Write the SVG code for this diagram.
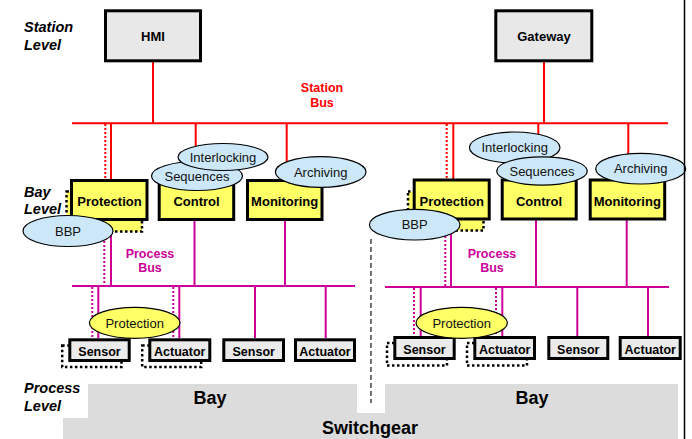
<svg xmlns="http://www.w3.org/2000/svg" width="692" height="439" viewBox="0 0 692 439">
<style>
text{font-family:"Liberation Sans",Arial,sans-serif;}
.lvl{font-size:14.5px;font-weight:bold;font-style:italic;fill:#000;}
.gbox{fill:#e8e8e8;stroke:#000;stroke-width:3;}
.ybox{fill:#ffff66;stroke:#000;stroke-width:3;}
.yshadow{fill:#ffff66;stroke:#000;stroke-width:2.5;stroke-dasharray:2.5 2.5;}
.sshadow{fill:none;stroke:#000;stroke-width:2.5;stroke-dasharray:2.5 2.5;}
.sbox{fill:#ebebeb;stroke:#000;stroke-width:3;}
.t13b{font-size:13px;font-weight:bold;text-anchor:middle;fill:#000;}
.t12b{font-size:12.5px;font-weight:bold;text-anchor:middle;fill:#000;}
.ell{fill:#cce8f8;stroke:#000;stroke-width:1.2;}
.yell{fill:#ffff66;stroke:#000;stroke-width:1.2;}
.et{font-size:13px;text-anchor:middle;fill:#111;}
.red{stroke:#ff0000;stroke-width:2;fill:none;}
.redd{stroke:#ff0000;stroke-width:2;stroke-dasharray:2 2;fill:none;}
.mag{stroke:#cc0099;stroke-width:2;fill:none;}
.magd{stroke:#cc0099;stroke-width:2;stroke-dasharray:2 2;fill:none;}
.bus{font-size:12.5px;font-weight:bold;text-anchor:middle;}
.gray{fill:#dcdcdc;}
.big{font-size:18px;font-weight:bold;text-anchor:middle;fill:#000;}
</style>

<!-- Ground areas -->
<g id="switchgear">
<rect class="gray" x="63" y="413" width="615" height="26"/>
<text class="big" x="370" y="434">Switchgear</text>
</g>
<g id="bay-left">
<rect class="gray" x="88" y="384" width="269" height="34"/>
<text class="big" x="210" y="404">Bay</text>
</g>
<g id="bay-right">
<rect class="gray" x="385" y="384" width="293" height="34"/>
<text class="big" x="532" y="404">Bay</text>
</g>
<rect x="63" y="413" width="25" height="5" fill="#fff"/>
<rect x="357" y="384" width="28" height="29" fill="#fff"/>

<!-- Level labels -->
<g id="labels">
<text class="lvl" x="24" y="32">Station</text>
<text class="lvl" x="24" y="50">Level</text>
<text class="lvl" x="24" y="197">Bay</text>
<text class="lvl" x="24" y="214">Level</text>
<text class="lvl" x="24" y="393">Process</text>
<text class="lvl" x="24" y="411">Level</text>
<text class="bus" x="322" y="92" fill="#ff0000">Station</text>
<text class="bus" x="322" y="107" fill="#ff0000">Bus</text>
<text class="bus" x="150" y="258" fill="#cc0099">Process</text>
<text class="bus" x="150" y="272" fill="#cc0099">Bus</text>
<text class="bus" x="492" y="258" fill="#cc0099">Process</text>
<text class="bus" x="492" y="272" fill="#cc0099">Bus</text>
</g>

<!-- Connectors -->
<g id="connectors">
<line class="red" x1="72" y1="123.3" x2="668" y2="123.3"/>
<line class="red" x1="153" y1="62" x2="153" y2="123.3"/>
<line class="red" x1="544" y1="62" x2="544" y2="123.3"/>
<line class="redd" x1="105.3" y1="124" x2="105.3" y2="180"/>
<line class="red" x1="111" y1="123.3" x2="111" y2="180"/>
<line class="red" x1="195.7" y1="123.3" x2="195.7" y2="170"/>
<line class="red" x1="286.7" y1="123.3" x2="286.7" y2="165"/>
<line class="redd" x1="446.7" y1="124" x2="446.7" y2="180"/>
<line class="red" x1="453.3" y1="123.3" x2="453.3" y2="180"/>
<line class="red" x1="538.3" y1="123.3" x2="538.3" y2="165"/>
<line class="red" x1="628.3" y1="123.3" x2="628.3" y2="160"/>

<line class="mag" x1="72" y1="286" x2="355" y2="286"/>
<line class="mag" x1="385" y1="287" x2="669" y2="287"/>
<line class="magd" x1="104.3" y1="233" x2="104.3" y2="286"/>
<line class="mag" x1="111" y1="220" x2="111" y2="286"/>
<line class="mag" x1="194.5" y1="220" x2="194.5" y2="286"/>
<line class="mag" x1="285" y1="220" x2="285" y2="286"/>
<line class="magd" x1="445.3" y1="232" x2="445.3" y2="287"/>
<line class="mag" x1="451" y1="220" x2="451" y2="287"/>
<line class="mag" x1="536" y1="220" x2="536" y2="287"/>
<line class="mag" x1="626.7" y1="220" x2="626.7" y2="287"/>

<line class="magd" x1="92.3" y1="287" x2="92.3" y2="338"/>
<line class="mag" x1="98.3" y1="286" x2="98.3" y2="338"/>
<line class="magd" x1="173.3" y1="287" x2="173.3" y2="338"/>
<line class="mag" x1="179.3" y1="286" x2="179.3" y2="338"/>
<line class="mag" x1="255" y1="286" x2="255" y2="338"/>
<line class="mag" x1="325.7" y1="286" x2="325.7" y2="338"/>
<line class="magd" x1="414" y1="288" x2="414" y2="336"/>
<line class="mag" x1="420.7" y1="287" x2="420.7" y2="336"/>
<line class="magd" x1="496" y1="288" x2="496" y2="336"/>
<line class="mag" x1="502.3" y1="287" x2="502.3" y2="336"/>
<line class="mag" x1="577.3" y1="287" x2="577.3" y2="336"/>
<line class="mag" x1="648" y1="287" x2="648" y2="336"/>

<line x1="371" y1="239" x2="371" y2="403" stroke="#444" stroke-width="1.5" stroke-dasharray="5 3"/>
</g>

<!-- Station level -->
<g id="hmi">
<rect class="gbox" x="105.5" y="10.8" width="95" height="50"/>
<text class="t13b" x="153" y="41">HMI</text>
</g>
<g id="gateway">
<rect class="gbox" x="495.8" y="10.8" width="96" height="50"/>
<text class="t13b" x="544" y="41">Gateway</text>
</g>

<!-- Bay level left -->
<g id="protection-left">
<rect class="yshadow" x="66.5" y="191.5" width="75.5" height="40"/>
<rect class="ybox" x="71.5" y="180.5" width="75.5" height="39"/>
<text class="t13b" x="109.5" y="205.5">Protection</text>
</g>
<g id="control-left">
<rect class="ybox" x="159.2" y="180.5" width="74.5" height="39"/>
<text class="t13b" x="196.5" y="205.5">Control</text>
</g>
<g id="monitoring-left">
<rect class="ybox" x="247.5" y="180.5" width="74.5" height="39"/>
<text class="t13b" x="284.7" y="205.5">Monitoring</text>
</g>
<g id="sequences-left">
<ellipse class="ell" cx="197" cy="176" rx="45.5" ry="14.5"/>
<text class="et" x="197" y="180.7">Sequences</text>
</g>
<g id="interlocking-left">
<ellipse class="ell" cx="223" cy="157" rx="45" ry="13.5"/>
<text class="et" x="223" y="161.7">Interlocking</text>
</g>
<g id="archiving-left">
<ellipse class="ell" cx="320.7" cy="172" rx="45.3" ry="15.3"/>
<text class="et" x="320.7" y="176.7">Archiving</text>
</g>
<g id="bbp-left">
<ellipse class="ell" cx="68" cy="231" rx="45" ry="15.5"/>
<text class="et" x="68" y="235.7">BBP</text>
</g>

<!-- Bay level right -->
<g id="protection-right">
<rect class="yshadow" x="408" y="191.5" width="75.5" height="39"/>
<rect class="ybox" x="414.2" y="180" width="75" height="39"/>
<text class="t13b" x="451.7" y="205.5">Protection</text>
</g>
<g id="control-right">
<rect class="ybox" x="502.2" y="180" width="74" height="39"/>
<text class="t13b" x="539" y="205.5">Control</text>
</g>
<g id="monitoring-right">
<rect class="ybox" x="590.2" y="180" width="74.5" height="39"/>
<text class="t13b" x="627.3" y="205.5">Monitoring</text>
</g>
<g id="interlocking-right">
<ellipse class="ell" cx="514.7" cy="147.5" rx="45.3" ry="15.5"/>
<text class="et" x="514.7" y="152.2">Interlocking</text>
</g>
<g id="sequences-right">
<ellipse class="ell" cx="542" cy="171" rx="45.3" ry="14.2"/>
<text class="et" x="542" y="175.7">Sequences</text>
</g>
<g id="archiving-right">
<ellipse class="ell" cx="640.7" cy="168.7" rx="45" ry="15.3"/>
<text class="et" x="640.7" y="173.4">Archiving</text>
</g>
<g id="bbp-right">
<ellipse class="ell" cx="414.7" cy="224.7" rx="45.3" ry="15.3"/>
<text class="et" x="414.7" y="229.4">BBP</text>
</g>

<!-- Process level left -->
<g id="sensor-left-1">
<rect class="sshadow" x="62.2" y="345.5" width="59.3" height="21.6"/>
<rect class="sbox" x="69.8" y="339.8" width="59.4" height="20.7"/>
<text class="t12b" x="99.5" y="356">Sensor</text>
</g>
<g id="actuator-left-1">
<rect class="sshadow" x="142.2" y="345.5" width="59" height="21.5"/>
<rect class="sbox" x="149.8" y="339.8" width="60" height="20.7"/>
<text class="t12b" x="179.8" y="356">Actuator</text>
</g>
<g id="sensor-left-2">
<rect class="sbox" x="223.8" y="339.8" width="59.7" height="20.7"/>
<text class="t12b" x="253.7" y="356">Sensor</text>
</g>
<g id="actuator-left-2">
<rect class="sbox" x="295.5" y="339.8" width="59" height="20.7"/>
<text class="t12b" x="325" y="356">Actuator</text>
</g>
<g id="protection-proc-left">
<ellipse class="yell" cx="134.7" cy="322.8" rx="45.3" ry="15.5"/>
<text class="et" x="134.7" y="327.5">Protection</text>
</g>

<!-- Process level right -->
<g id="sensor-right-1">
<rect class="sshadow" x="387" y="343" width="60" height="22.5"/>
<rect class="sbox" x="394.8" y="337.5" width="59.4" height="21"/>
<text class="t12b" x="424.5" y="354">Sensor</text>
</g>
<g id="actuator-right-1">
<rect class="sshadow" x="467" y="343" width="60" height="22.5"/>
<rect class="sbox" x="474.8" y="337.5" width="59.7" height="21"/>
<text class="t12b" x="504.7" y="354">Actuator</text>
</g>
<g id="sensor-right-2">
<rect class="sbox" x="548.8" y="337.5" width="59" height="21"/>
<text class="t12b" x="578.3" y="354">Sensor</text>
</g>
<g id="actuator-right-2">
<rect class="sbox" x="620.2" y="337.5" width="60" height="21"/>
<text class="t12b" x="650.2" y="354">Actuator</text>
</g>
<g id="protection-proc-right">
<ellipse class="yell" cx="461.7" cy="322.8" rx="45.7" ry="15.5"/>
<text class="et" x="461.7" y="327.5">Protection</text>
</g>

<line x1="684.5" y1="0" x2="684.5" y2="439" stroke="#000" stroke-width="1.5"/>
</svg>
